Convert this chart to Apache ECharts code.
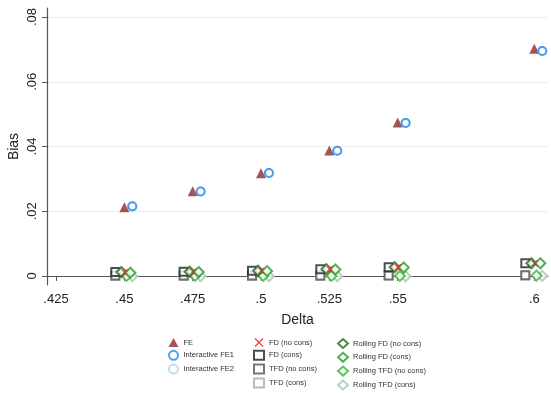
<!DOCTYPE html>
<html>
<head>
<meta charset="utf-8">
<script src="https://cdn.jsdelivr.net/npm/echarts@6/dist/echarts.min.js"></script>
<style>
  html, body { margin: 0; padding: 0; background: #fff; }
  #chart { width: 551px; height: 393px; }
</style>
</head>
<body>
<div id="chart"></div>
<script>
// x values (Delta) and tick labels
const deltas = [0.45, 0.475, 0.5, 0.525, 0.55, 0.6];
const xTicks = [0.425, 0.45, 0.475, 0.5, 0.525, 0.55, 0.6];
const yTicks = [0, 0.02, 0.04, 0.06, 0.08];

// bias per estimator
const feBias        = [0.0212, 0.0262, 0.0317, 0.0388, 0.0474, 0.0702];
const ife1Bias      = [0.0215, 0.0261, 0.0318, 0.0387, 0.0473, 0.0695];
const ife2Bias      = [0.0215, 0.0261, 0.0318, 0.0387, 0.0473, 0.0695];
const fdNoCons      = [0.0011, 0.0013, 0.0016, 0.0021, 0.0027, 0.0039];
const fdCons        = [0.0012, 0.0013, 0.0016, 0.0021, 0.0027, 0.0039];
const tfdNoCons     = [0.0001, 0.0001, 0.0001, 0.0001, 0.0001, 0.0002];
const tfdCons       = [0.0000, 0.0000, 0.0000, 0.0000, 0.0001, 0.0001];
const rollFdNoCons  = [0.0012, 0.0013, 0.0016, 0.0021, 0.0027, 0.0039];
const rollFdCons    = [0.0010, 0.0012, 0.0015, 0.0020, 0.0026, 0.0039];
const rollTfdNoCons = [0.0000, 0.0000, 0.0000, 0.0000, 0.0000, 0.0001];
const rollTfdCons   = [-0.0001, -0.0001, -0.0001, -0.0001, -0.0001, 0.0000];

const crossPath = 'path://M0,1 L1,0 L5,4 L9,0 L10,1 L6,5 L10,9 L9,10 L5,6 L1,10 L0,9 L4,5 Z';

// series setup: name, values, horizontal offset (Stata-style nudging), symbol, size, colour, hollow
const seriesDefs = [
  ['FE', feBias, 0, 'triangle', 10, '#8c2a2f', false],
  ['Interactive FE2', ife2Bias, 0.0029, 'emptyCircle', 8, '#a9d6f0', true],
  ['Interactive FE1', ife1Bias, 0.0029, 'emptyCircle', 8, '#1e88f0', true],
  ['TFD (cons)', tfdCons, -0.0033, 'emptyRect', 8, '#a8a8a8', true],
  ['TFD (no cons)', tfdNoCons, -0.0033, 'emptyRect', 8, '#555555', true],
  ['FD (cons)', fdCons, -0.0033, 'emptyRect', 8, '#222222', true],
  ['Rolling TFD (cons)', rollTfdCons, 0.0029, 'emptyDiamond', 10, '#a9c4b2', true],
  ['Rolling TFD (no cons)', rollTfdNoCons, 0.0008, 'emptyDiamond', 10, '#33b833', true],
  ['Rolling FD (no cons)', rollFdNoCons, -0.0011, 'emptyDiamond', 10, '#1d6b1d', true],
  ['Rolling FD (cons)', rollFdCons, 0.0022, 'emptyDiamond', 10, '#2a9a2a', true],
  ['FD (no cons)', fdNoCons, 0, crossPath, 7, '#ee1111', false]
];

const series = seriesDefs.map(d => ({
  name: d[0],
  type: 'scatter',
  symbol: d[3],
  symbolSize: d[4],
  data: deltas.map((x, i) => [x + d[2], d[1][i]]),
  itemStyle: d[6]
    ? { color: d[5], borderColor: d[5], borderWidth: 1.6 }
    : { color: d[5], borderWidth: 0 },
  emphasis: { disabled: true }
}));

const legendFont = { fontSize: 7.5, lineHeight: 9, color: '#333', fontFamily: 'Liberation Sans, Arial' };
const legendBase = {
  orient: 'vertical', top: 338, height: 60, itemWidth: 10, itemHeight: 9, itemGap: 2.8,
  textStyle: legendFont, selectedMode: false, padding: 0
};

const chart = echarts.init(document.getElementById('chart'));
chart.setOption({
  backgroundColor: '#fff',
  animation: false,
  grid: { left: 47, right: 3, top: 8, bottom: 108, containLabel: false, outerBoundsMode: 'none' },
  xAxis: {
    type: 'value', min: 0.4217, max: 0.605,
    name: 'Delta', nameLocation: 'middle', nameGap: 28, nameMoveOverlap: false,
    nameTextStyle: { fontSize: 14, color: '#222', fontFamily: 'Liberation Sans, Arial' },
    axisLine: { show: true, lineStyle: { color: '#555', width: 1.2 } },
    axisTick: { show: true, length: 5, customValues: xTicks, lineStyle: { color: '#555' } },
    axisLabel: {
      customValues: xTicks, fontSize: 13, color: '#222', margin: 8,
      fontFamily: 'Liberation Sans, Arial',
      formatter: v => String(+v.toFixed(3)).replace(/^0/, '')
    },
    splitLine: { show: false }
  },
  yAxis: {
    type: 'value', min: -0.0028, max: 0.0828,
    name: 'Bias', nameLocation: 'middle', nameGap: 26, nameMoveOverlap: false,
    nameTextStyle: { fontSize: 14, color: '#222', fontFamily: 'Liberation Sans, Arial' },
    axisLine: { show: true, lineStyle: { color: '#555', width: 1.2 } },
    axisTick: { show: true, length: 5, customValues: yTicks, lineStyle: { color: '#555' } },
    axisLabel: {
      customValues: yTicks, fontSize: 13, color: '#222', margin: 8, rotate: 90,
      fontFamily: 'Liberation Sans, Arial',
      formatter: v => v === 0 ? '0' : String(+v.toFixed(3)).replace(/^0/, '')
    },
    splitLine: { show: true, lineStyle: { color: '#ececec', width: 1 } }
  },
  legend: [
    Object.assign({ left: 168, data: ['FE', 'Interactive FE1', 'Interactive FE2'] }, legendBase),
    Object.assign({ left: 253, data: ['FD (no cons)', 'FD (cons)', 'TFD (no cons)', 'TFD (cons)'] }, legendBase),
    Object.assign({ left: 337, data: ['Rolling FD (no cons)', 'Rolling FD (cons)', 'Rolling TFD (no cons)', 'Rolling TFD (cons)'] }, legendBase)
  ],
  series: series
});
</script>
</body>
</html>
